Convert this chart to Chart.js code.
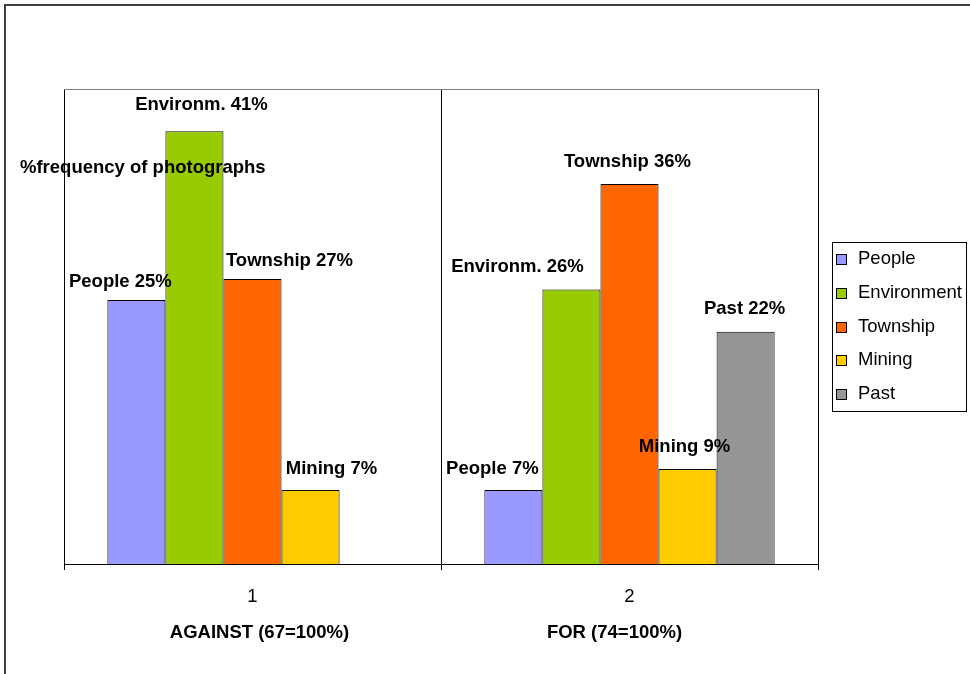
<!DOCTYPE html>
<html>
<head>
	<title>Photographs frequency</title>
	<script src="https://cdn.jsdelivr.net/npm/chart.js"></script>
	<style>
		body { margin: 0; background: #fff; }
		#wrap { width: 970px; height: 674px; }
	</style>
</head>
<body>
	<div id="wrap"><canvas id="myChart" width="970" height="674"></canvas></div>
	<script>
		// values (%)
		var categories = ['1', '2'];
		var groupTitles = ['AGAINST (67=100%)', 'FOR (74=100%)'];
		var seriesNames = ['People', 'Environment', 'Township', 'Mining', 'Past'];
		var shortNames = ['People', 'Environm.', 'Township', 'Mining', 'Past'];
		var people = [25, 7];
		var environment = [41, 26];
		var township = [27, 36];
		var mining = [7, 9];
		var past = [null, 22];
		var axisTitle = '%frequency of photographs';

		var colors = ['#9999FF', '#99CC00', '#FF6600', '#FFCC00', '#969696'];
		// label nudges (dx, dy from bar top), like the hand placed labels in the original
		var labelDx = [[-16, -21], [7, -54], [37, -2], [21, -3], [0, -1]];
		var labelDy = [[-18, -21], [-26, -23], [-18, -22], [-21, -22], [0, -23]];
		var titleDx = [7, -15];

		var FONT = 'Arial, "Liberation Sans", sans-serif';

		var extras = {
			id: 'extras',
			beforeDatasetsDraw: function(chart) {
				var a = chart.chartArea, ctx = chart.ctx;
				ctx.save();
				ctx.strokeStyle = '#808080';
				ctx.lineWidth = 1;
				ctx.beginPath();
				ctx.moveTo(a.left, a.top + 0.5);
				ctx.lineTo(a.right, a.top + 0.5);
				ctx.stroke();
				ctx.restore();
			},
			afterDraw: function(chart) {
				var ctx = chart.ctx;
				ctx.save();
				// outer frame (left and top only visible)
				ctx.strokeStyle = '#404040';
				ctx.lineWidth = 2;
				ctx.beginPath();
				ctx.moveTo(5, 674);
				ctx.lineTo(5, 5);
				ctx.lineTo(970, 5);
				ctx.stroke();

				// bar labels
				ctx.fillStyle = '#000';
				ctx.font = 'bold 18.5px ' + FONT;
				ctx.textAlign = 'center';
				ctx.textBaseline = 'middle';
				chart.data.datasets.forEach(function(ds, d) {
					var meta = chart.getDatasetMeta(d);
					meta.data.forEach(function(el, i) {
						var v = ds.data[i];
						if (v === null) return;
						ctx.fillText(shortNames[d] + ' ' + v + '%', el.x + labelDx[d][i], el.y + labelDy[d][i]);
					});
				});

				// misplaced axis title, as in the original
				ctx.textAlign = 'left';
				ctx.fillText(axisTitle, 20, 168);

				// group titles under the tick labels
				ctx.textAlign = 'center';
				var xs = chart.scales.x;
				groupTitles.forEach(function(t, i) {
					ctx.fillText(t, xs.getPixelForValue(i) + titleDx[i], 633);
				});

				// legend
				var lx = 832, ly = 242, lw = 134, lh = 169;
				ctx.strokeStyle = '#000';
				ctx.lineWidth = 1;
				ctx.strokeRect(lx + 0.5, ly + 0.5, lw, lh);
				ctx.font = '18.5px ' + FONT;
				ctx.textAlign = 'left';
				seriesNames.forEach(function(n, i) {
					var cy = ly + 17 + i * 33.75;
					ctx.fillStyle = colors[i];
					ctx.fillRect(836.5, Math.round(cy) - 4.5, 10, 10);
					ctx.strokeRect(836.5, Math.round(cy) - 4.5, 10, 10);
					ctx.fillStyle = '#000';
					ctx.fillText(n, 858, cy);
				});
				ctx.restore();
			}
		};

		var series = [people, environment, township, mining, past];
		var ctx = document.getElementById('myChart').getContext('2d');
		var chart = new Chart(ctx, {
			type: 'bar',
			data: {
				labels: categories,
				datasets: series.map(function(vals, i) {
					return {
						label: seriesNames[i],
						data: vals,
						backgroundColor: colors[i],
						borderColor: '#000',
						borderWidth: 1,
						borderSkipped: 'bottom'
					};
				})
			},
			options: {
				responsive: false,
				animation: false,
				layout: { padding: { left: 64, right: 152, top: 89, bottom: 0 } },
				datasets: { bar: { categoryPercentage: 0.77, barPercentage: 1 } },
				plugins: {
					legend: { display: false },
					tooltip: { enabled: false }
				},
				scales: {
					x: {
						grid: { offset: true, color: '#000', lineWidth: 1, tickLength: 6, drawOnChartArea: true },
						border: { color: '#000' },
						ticks: { color: '#000', padding: 16, font: { family: FONT, size: 18.5 } },
						afterFit: function(s) { s.height = 110; }
					},
					y: { display: false, min: 0, max: 45 }
				}
			},
			plugins: [extras]
		});
	</script>
</body>
</html>
